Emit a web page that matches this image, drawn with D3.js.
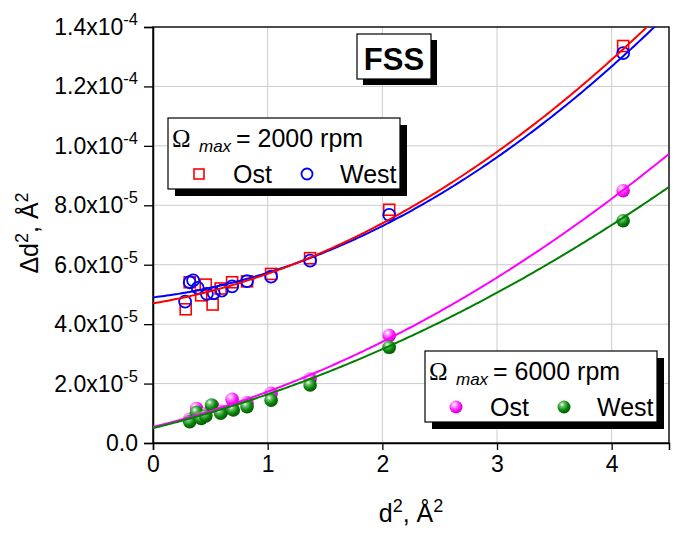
<!DOCTYPE html>
<html>
<head>
<meta charset="utf-8">
<script src="https://cdn.jsdelivr.net/npm/d3@7"></script>
<style>
  html, body { margin: 0; padding: 0; background: #fff; }
  svg { display: block; font-family: Arial, "Liberation Sans", sans-serif; }
</style>
</head>
<body>
<svg id="chart" width="679" height="533"></svg>
<script>
// ---- data: d^2 (Å^2) vs Δd^2 (Å^2), FSS sample ----
const ost2000X  = [0.285, 0.32, 0.42, 0.46, 0.52, 0.59, 0.69, 0.82, 1.03, 1.37, 2.06, 4.10];
const ost2000Y  = [45.0e-6, 54.1e-6, 49.7e-6, 53.3e-6, 46.6e-6, 52.0e-6, 54.1e-6, 54.4e-6, 56.9e-6, 62.2e-6, 78.5e-6, 133.6e-6];
const west2000X = [0.28, 0.32, 0.35, 0.39, 0.47, 0.53, 0.60, 0.69, 0.82, 1.03, 1.37, 2.06, 4.10];
const west2000Y = [47.6e-6, 54.1e-6, 54.7e-6, 52.2e-6, 50.2e-6, 50.4e-6, 51.3e-6, 52.7e-6, 54.5e-6, 56.0e-6, 61.4e-6, 76.8e-6, 131.2e-6];
const ost6000X  = [0.32, 0.38, 0.46, 0.52, 0.60, 0.69, 0.82, 1.03, 1.37, 2.06, 4.10];
const ost6000Y  = [8.0e-6, 11.6e-6, 9.8e-6, 12.5e-6, 10.6e-6, 14.7e-6, 13.5e-6, 16.7e-6, 21.5e-6, 36.2e-6, 84.9e-6];
const west6000X = [0.32, 0.38, 0.42, 0.46, 0.51, 0.59, 0.70, 0.82, 1.03, 1.37, 2.06, 4.10];
const west6000Y = [7.2e-6, 10.3e-6, 8.3e-6, 9.1e-6, 12.8e-6, 10.0e-6, 11.1e-6, 12.2e-6, 14.4e-6, 19.5e-6, 32.2e-6, 74.8e-6];

// fitted curves y = a + b·x + c·x² (units of 1e-6 Å^2)
const fitOst2000  = [47.0, 6.43, 3.52];
const fitWest2000 = [49.0, 4.59, 3.71];
const fitOst6000  = [5.4, 9.44, 2.44];
const fitWest6000 = [5.0, 9.49, 1.90];

const xTicks = [0, 1, 2, 3, 4];
const yTicks = [0, 2e-5, 4e-5, 6e-5, 8e-5, 1.0e-4, 1.2e-4, 1.4e-4];
const yTickLabels = ["0.0", "2.0x10|-5", "4.0x10|-5", "6.0x10|-5", "8.0x10|-5", "1.0x10|-4", "1.2x10|-4", "1.4x10|-4"];

// ---- layout ----
const svg = d3.select("#chart");
const L = 153, R = 669, T = 27, B = 443;
const x = d3.scaleLinear().domain([0, 4.5]).range([L, R]);
const y = d3.scaleLinear().domain([0, 1.4e-4]).range([B, T]);

const defs = svg.append("defs");
defs.append("clipPath").attr("id", "plotClip")
  .append("rect").attr("x", L).attr("y", T).attr("width", R - L).attr("height", B - T);

function sphereGrad(id, light, mid, dark) {
  const g = defs.append("radialGradient").attr("id", id)
    .attr("cx", "0.38").attr("cy", "0.35").attr("r", "0.7")
    .attr("fx", "0.35").attr("fy", "0.3");
  g.append("stop").attr("offset", "0").attr("stop-color", "#ffffff");
  g.append("stop").attr("offset", "0.25").attr("stop-color", light);
  g.append("stop").attr("offset", "0.6").attr("stop-color", mid);
  g.append("stop").attr("offset", "1").attr("stop-color", dark);
}
sphereGrad("gMag", "#ff9cff", "#ff1aff", "#c000c0");
sphereGrad("gGrn", "#6fbf6f", "#0a8a0a", "#005000");

// grid
const grid = svg.append("g").attr("stroke", "#cccccc").attr("stroke-width", 1);
xTicks.filter(d => d > 0).forEach(d => grid.append("line")
  .attr("x1", x(d)).attr("x2", x(d)).attr("y1", T).attr("y2", B));
yTicks.filter(d => d > 0 && d < 1.4e-4).forEach(d => grid.append("line")
  .attr("x1", L).attr("x2", R).attr("y1", y(d)).attr("y2", y(d)));

// frame
svg.append("rect").attr("x", L).attr("y", T).attr("width", R - L).attr("height", B - T)
  .attr("fill", "none").attr("stroke", "#000").attr("stroke-width", 1.4);

// axes with major/minor ticks
const xMinor = d3.range(0, 4.51, 0.5);
const yMinor = d3.range(0, 1.41e-4, 1e-5);
const xAxisG = svg.append("g").attr("transform", `translate(0,${B})`);
xAxisG.call(d3.axisBottom(x).tickValues(xMinor).tickSize(4).tickFormat(""));
xAxisG.call(d3.axisBottom(x).tickValues(xTicks).tickSize(7).tickPadding(6).tickFormat(d3.format("d")));
const yAxisG = svg.append("g").attr("transform", `translate(${L},0)`);
yAxisG.call(d3.axisLeft(y).tickValues(yMinor).tickSize(4).tickFormat(""));
yAxisG.call(d3.axisLeft(y).tickValues(yTicks).tickSize(9).tickPadding(3).tickFormat(""));
svg.selectAll(".domain").attr("stroke", "#000").attr("stroke-width", 1.5);
svg.selectAll(".tick line").attr("stroke", "#000").attr("stroke-width", 1.3);
xAxisG.selectAll("text").attr("font-size", 23).attr("fill", "#000")
  .attr("font-family", "Arial, 'Liberation Sans', sans-serif");

// y tick labels with superscript exponents
yTicks.forEach((v, i) => {
  const parts = yTickLabels[i].split("|");
  const t = svg.append("text").attr("x", L - 15).attr("y", y(v) + 8)
    .attr("text-anchor", "end").attr("font-size", 23).attr("fill", "#000");
  t.append("tspan").text(parts[0]);
  if (parts[1]) t.append("tspan").attr("dy", -10).attr("font-size", 16.5).text(parts[1]);
});

// axis titles
const xt = svg.append("text").attr("x", 411).attr("y", 522).attr("text-anchor", "middle").attr("font-size", 25);
xt.append("tspan").text("d");
xt.append("tspan").attr("dy", -10).attr("font-size", 18).text("2");
xt.append("tspan").attr("dy", 10).text(", Å");
xt.append("tspan").attr("dy", -10).attr("font-size", 18).text("2");

const yt = svg.append("text").attr("transform", "translate(38,233) rotate(-90)")
  .attr("text-anchor", "middle").attr("font-size", 25);
yt.append("tspan").text("Δd");
yt.append("tspan").attr("dy", -10).attr("font-size", 18).text("2");
yt.append("tspan").attr("dy", 10).text(", Å");
yt.append("tspan").attr("dy", -10).attr("font-size", 18).text("2");

// fit curves
const plot = svg.append("g").attr("clip-path", "url(#plotClip)");
const xs = d3.range(0, 4.5001, 0.02);
const line = d3.line().x(d => x(d[0])).y(d => y(d[1]));
function drawFit(c, color) {
  plot.append("path")
    .datum(xs.map(v => [v, (c[0] + c[1] * v + c[2] * v * v) * 1e-6]))
    .attr("d", line).attr("fill", "none").attr("stroke", color).attr("stroke-width", 2);
}

// markers
const SQ = 11;
function squares(xa, ya, color) {
  plot.append("g").selectAll("rect").data(xa.map((v, i) => [v, ya[i]])).join("rect")
    .attr("x", d => x(d[0]) - SQ / 2).attr("y", d => y(d[1]) - SQ / 2)
    .attr("width", SQ).attr("height", SQ)
    .attr("fill", "none").attr("stroke", color).attr("stroke-width", 1.6);
}
function circles(xa, ya, color) {
  plot.append("g").selectAll("circle").data(xa.map((v, i) => [v, ya[i]])).join("circle")
    .attr("cx", d => x(d[0])).attr("cy", d => y(d[1])).attr("r", 6)
    .attr("fill", "none").attr("stroke", color).attr("stroke-width", 1.8);
}
function spheres(xa, ya, grad) {
  plot.append("g").selectAll("circle").data(xa.map((v, i) => [v, ya[i]])).join("circle")
    .attr("cx", d => x(d[0])).attr("cy", d => y(d[1])).attr("r", 6.8)
    .attr("fill", `url(#${grad})`);
}

squares(ost2000X, ost2000Y, "#ff0000");
circles(west2000X, west2000Y, "#0000ff");
drawFit(fitWest2000, "#0000ff");
drawFit(fitOst2000, "#ff0000");
spheres(ost6000X, ost6000Y, "gMag");
spheres(west6000X, west6000Y, "gGrn");
drawFit(fitOst6000, "#ff00ff");
drawFit(fitWest6000, "#008000");

// boxes with drop shadow
function shadowBox(x0, y0, w, h, off) {
  svg.append("rect").attr("x", x0 + off).attr("y", y0 + off).attr("width", w).attr("height", h).attr("fill", "#000");
  svg.append("rect").attr("x", x0).attr("y", y0).attr("width", w).attr("height", h)
    .attr("fill", "#fff").attr("stroke", "#000").attr("stroke-width", 1.2);
}

// title box
shadowBox(357, 34, 74, 45, 6);
svg.append("text").attr("x", 394).attr("y", 70).attr("text-anchor", "middle")
  .attr("font-size", 31).attr("font-weight", "bold").text("FSS");

// legends
function legend(x0, y0, rpm, m1, m2) {
  shadowBox(x0, y0, 232, 71, 7);
  const base = y0 + 29;
  svg.append("text").attr("x", x0 + 4).attr("y", base).attr("font-size", 25)
    .attr("font-family", "'Liberation Serif', 'Times New Roman', serif").text("Ω");
  svg.append("text").attr("x", x0 + 31).attr("y", base + 5).attr("font-size", 17)
    .attr("font-style", "italic").text("max");
  svg.append("text").attr("x", x0 + 68).attr("y", base).attr("font-size", 25).text(`= ${rpm} rpm`);
  const ry = y0 + 56;
  m1(x0 + 31, ry);
  svg.append("text").attr("x", x0 + 65).attr("y", ry + 9).attr("font-size", 25).text("Ost");
  m2(x0 + 139, ry);
  svg.append("text").attr("x", x0 + 172).attr("y", ry + 9).attr("font-size", 25).text("West");
}
legend(168, 118, 2000,
  (cx, cy) => svg.append("rect").attr("x", cx - 5).attr("y", cy - 5).attr("width", 10).attr("height", 10)
    .attr("fill", "none").attr("stroke", "#ff0000").attr("stroke-width", 1.6),
  (cx, cy) => svg.append("circle").attr("cx", cx).attr("cy", cy).attr("r", 5.5)
    .attr("fill", "none").attr("stroke", "#0000ff").attr("stroke-width", 1.8));
legend(425, 351, 6000,
  (cx, cy) => svg.append("circle").attr("cx", cx).attr("cy", cy).attr("r", 6.5).attr("fill", "url(#gMag)"),
  (cx, cy) => svg.append("circle").attr("cx", cx).attr("cy", cy).attr("r", 6.5).attr("fill", "url(#gGrn)"));
</script>
</body>
</html>
